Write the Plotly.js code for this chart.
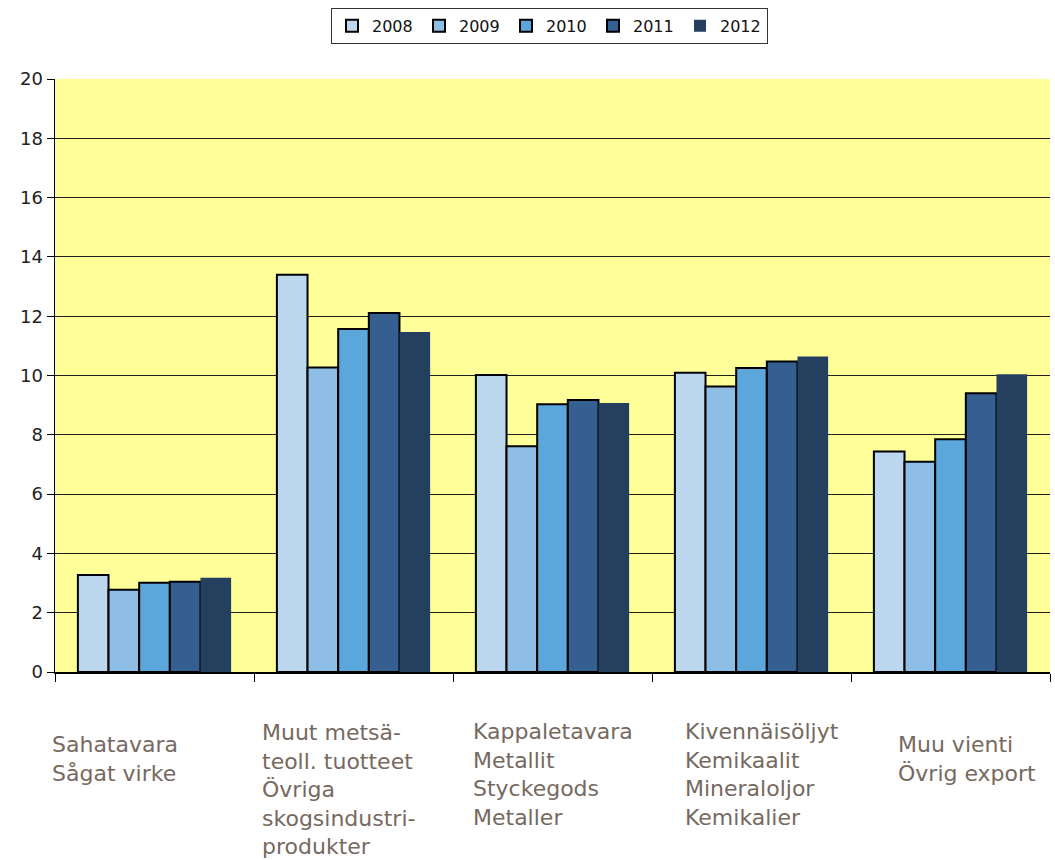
<!DOCTYPE html>
<html>
<head>
<meta charset="utf-8">
<script src="https://cdn.plot.ly/plotly-3.0.1.min.js"></script>
<style>
  html, body { margin: 0; padding: 0; background: #ffffff; }
  #chart { width: 1055px; height: 860px; }
</style>
</head>
<body>
<div id="chart"></div>
<script>
// Export product groups (each label drawn on several lines)
const categoryLines = [
  ['Sahatavara', 'Sågat virke'],
  ['Muut metsä-', 'teoll. tuotteet', 'Övriga', 'skogsindustri-', 'produkter'],
  ['Kappaletavara', 'Metallit', 'Styckegods', 'Metaller'],
  ['Kivennäisöljyt', 'Kemikaalit', 'Mineraloljor', 'Kemikalier'],
  ['Muu vienti', 'Övrig export']
];
const categories = categoryLines.map(l => l.join(' / '));

const years = ['2008', '2009', '2010', '2011', '2012'];

const values2008 = [3.27, 13.40, 10.02, 10.09, 7.44];
const values2009 = [2.77, 10.27, 7.61, 9.63, 7.09];
const values2010 = [3.01, 11.57, 9.03, 10.25, 7.85];
const values2011 = [3.04, 12.11, 9.17, 10.47, 9.40];
const values2012 = [3.18, 11.47, 9.07, 10.64, 10.04];

const seriesValues = [values2008, values2009, values2010, values2011, values2012];

const barColors = ['#BDD7EE', '#8EBDE6', '#5BA7DB', '#355F91', '#253F5F'];
const outlined = [true, true, true, true, false];

const traces = years.map((yr, i) => ({
  type: 'bar',
  name: yr,
  x: categories,
  y: seriesValues[i],
  marker: {
    color: barColors[i],
    line: outlined[i] ? { color: '#000000', width: 2 } : { color: barColors[i], width: 0 }
  },
  hoverinfo: 'x+y+name'
}));

// Category label placement below the axis (pixel offsets)
const labelShiftX = [-105, -94, -82, -69, -55];
const labelShiftY = [-58, -46, -45, -45, -58];

const annotations = categoryLines.map((lines, i) => ({
  xref: 'x',
  yref: 'paper',
  x: categories[i],
  y: 0,
  xanchor: 'left',
  yanchor: 'top',
  xshift: labelShiftX[i],
  yshift: labelShiftY[i],
  align: 'left',
  showarrow: false,
  text: lines.join('<br>'),
  font: { family: 'DejaVu Sans, Verdana, sans-serif', size: 22, color: '#76695F' }
}));

const layout = {
  width: 1055,
  height: 860,
  margin: { l: 55, r: 5, t: 79, b: 188, pad: 0, autoexpand: false },
  paper_bgcolor: '#ffffff',
  plot_bgcolor: '#FFFF99',
  barmode: 'group',
  bargap: 0.23,
  bargroupgap: 0,
  font: { family: 'DejaVu Sans, Verdana, sans-serif', color: '#222222' },
  showlegend: true,
  legend: {
    orientation: 'h',
    x: 0.497,
    xanchor: 'center',
    y: 0.991,
    yref: 'container',
    yanchor: 'top',
    bgcolor: '#ffffff',
    bordercolor: '#333333',
    borderwidth: 1,
    font: { size: 16, color: '#111111' },
    entrywidth: 42,
    entrywidthmode: 'pixels',
    traceorder: 'normal'
  },
  xaxis: {
    type: 'category',
    range: [-0.5, categories.length - 0.5],
    autorange: false,
    showticklabels: false,
    tickson: 'boundaries',
    ticks: 'outside',
    ticklen: 8,
    tickcolor: '#000000',
    tickwidth: 1,
    showline: true,
    linecolor: '#000000',
    linewidth: 2,
    showgrid: false,
    zeroline: false,
    automargin: false,
    fixedrange: true
  },
  yaxis: {
    range: [0, 20],
    autorange: false,
    dtick: 2,
    tick0: 0,
    ticks: 'outside',
    ticklen: 7,
    tickcolor: '#000000',
    tickwidth: 1,
    showline: true,
    linecolor: '#000000',
    linewidth: 1.5,
    showgrid: true,
    gridcolor: '#1f1f1f',
    gridwidth: 1,
    zeroline: false,
    automargin: false,
    tickfont: { size: 18, color: '#222222' },
    fixedrange: true
  },
  annotations: annotations
};

Plotly.newPlot('chart', traces, layout, { displayModeBar: false, staticPlot: true });
</script>
</body>
</html>
